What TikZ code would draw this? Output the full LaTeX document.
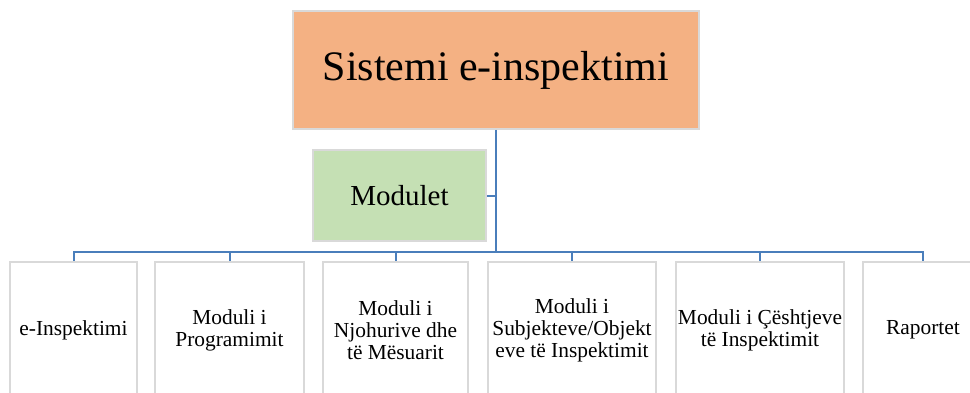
\documentclass[tikz,border=0pt]{standalone}
\usepackage{fontspec}
\setmainfont{Liberation Serif}
\definecolor{rootFill}{HTML}{F4B183}
\definecolor{sideFill}{HTML}{C5E0B4}
\definecolor{boxLine}{HTML}{D9D9D9}
\definecolor{linkLine}{HTML}{4A7EBB}
\begin{document}
\begin{tikzpicture}[x=1pt, y=-1pt, rootStyle/.style={rectangle, draw=boxLine, line width=1.5pt, fill=rootFill, inner sep=0pt, font=\fontsize{42}{46}\selectfont}, sideStyle/.style={rectangle, draw=boxLine, line width=1.5pt, fill=sideFill, inner sep=0pt, font=\fontsize{29}{32}\selectfont}, leafStyle/.style={rectangle, draw=boxLine, line width=1.5pt, fill=white, inner sep=0pt, minimum height=136pt, align=center, font=\fontsize{21.4}{22}\selectfont}, linkStyle/.style={draw=linkLine, line width=2pt}]
                    \useasboundingbox (0, 0) rectangle (970, 392);
                    \clip (0, 0) rectangle (970, 392);

                    \node[rootStyle, minimum width=406pt, minimum height=118pt] (root) at (496, 70) {Sistemi e-inspektimi};
                    \node[sideStyle, minimum width=173pt, minimum height=91pt] (side) at (399.5, 195.5) {Modulet};

                    \node[leafStyle, minimum width=127pt] (21_0) at ( 73.5, 330) {e-Inspektimi};
                    \node[leafStyle, minimum width=149pt] (22_0) at (229.5, 330) {Moduli i\\Programimit};
                    \node[leafStyle, minimum width=145pt] (23_0) at (395.5, 330) {Moduli i\\Njohurive dhe\\të Mësuarit};
                    \node[leafStyle, minimum width=168pt] (24_0) at (  572, 330) {Moduli i\\Subjekteve/Objekt\\eve të Inspektimit};
                    \node[leafStyle, minimum width=168pt] (25_0) at (  760, 330) {Moduli i Çështjeve\\të Inspektimit};
                    \node[leafStyle, minimum width=120pt] (26_0) at (  923, 330) {Raportet};

                    \coordinate (bus) at (496, 252);

                    \draw[linkStyle] (root.south) -- (bus);
                    \draw[linkStyle] (side.east) -- (side.east -| bus);

                    \draw[linkStyle] (bus) -| (21_0.north);
                    \draw[linkStyle] (bus) -| (22_0.north);
                    \draw[linkStyle] (bus) -| (23_0.north);
                    \draw[linkStyle] (bus) -| (24_0.north);
                    \draw[linkStyle] (bus) -| (25_0.north);
                    \draw[linkStyle] (bus) -| (26_0.north);
                \end{tikzpicture}
\end{document}
